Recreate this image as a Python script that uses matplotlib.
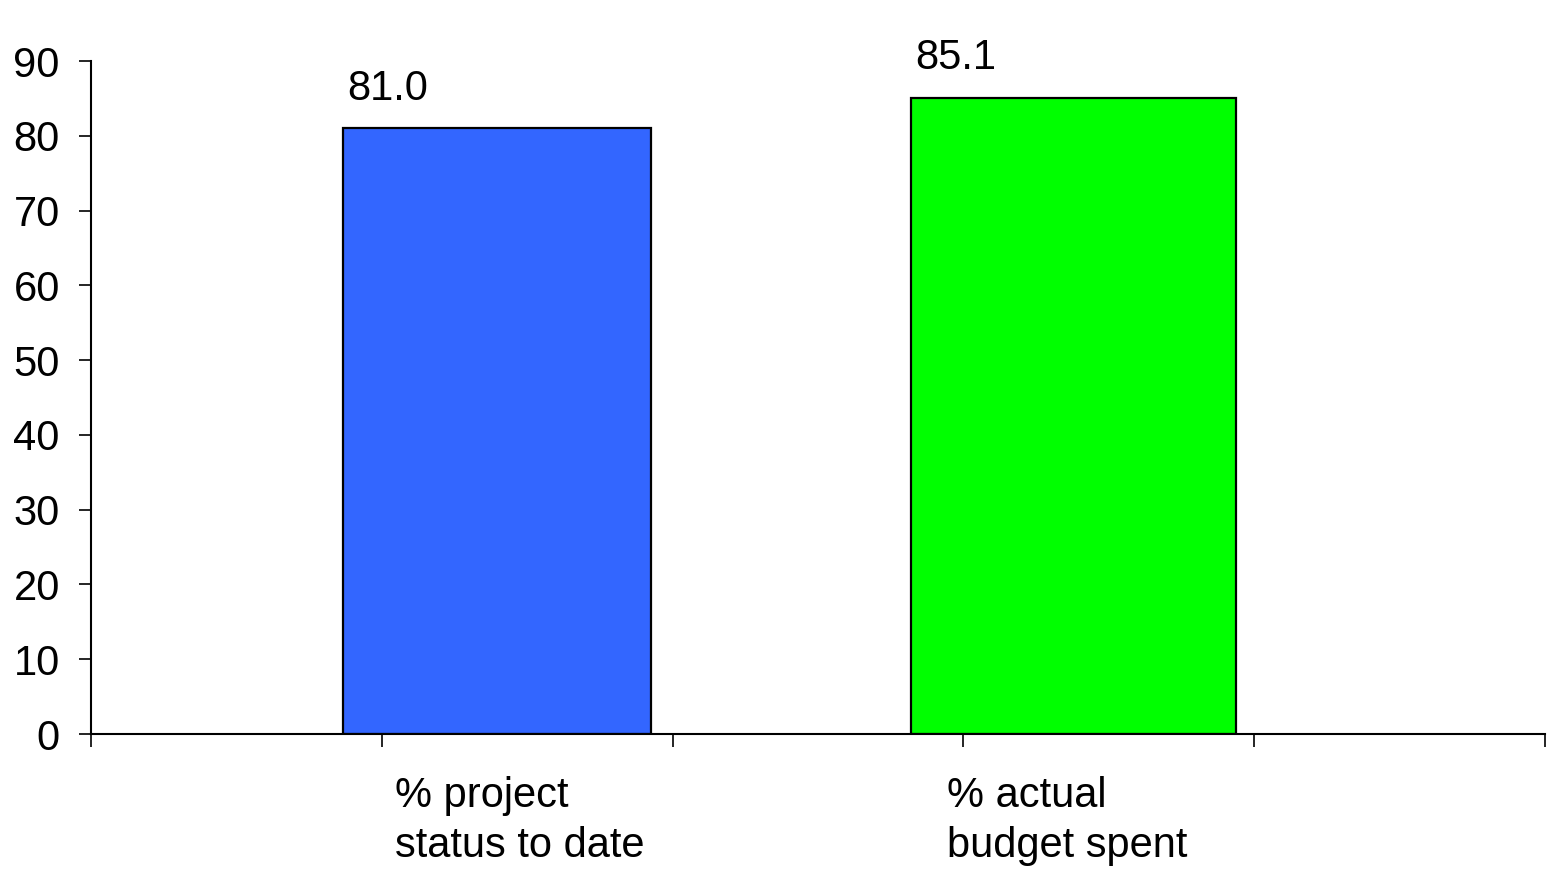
import matplotlib.pyplot as plt

plt.rcParams['font.family'] = ['Liberation Sans', 'DejaVu Sans']

# Data
categories = ['% project\nstatus to date', '% actual\nbudget spent']
values = [81.0, 85.1]
value_labels = ['81.0', '85.1']
bar_colors = ['#3366FF', '#00FF00']

# Bar layout along a 0..5 axis
bar_centers = [1.396, 3.38]
bar_widths = [1.06, 1.118]
label_x = [1.045, 2.944]

fig = plt.figure(figsize=(15.54, 8.69), dpi=100)
ax = fig.add_axes([0.0586, 0.1553, 0.9356, 0.7745])

bars = ax.bar(bar_centers, values, width=bar_widths, color=bar_colors,
              edgecolor='black', linewidth=1.6, zorder=1)

# Value labels over each bar, left aligned with the bar
for rect, lab in zip(bars, value_labels):
    ax.annotate(lab, (rect.get_x(), rect.get_height()),
                xytext=(3, 14), textcoords='offset points',
                ha='left', va='bottom', fontsize=30)

# Category labels below the axis
for x, cat in zip(label_x, categories):
    ax.text(x, -0.062, cat, transform=ax.get_xaxis_transform(),
            ha='left', va='top', fontsize=30, linespacing=1.32)

ax.set_xlim(0, 5)
ax.set_ylim(0, 90)
ax.set_xticks(range(6))
ax.set_xticklabels([])
ax.set_yticks(range(0, 91, 10))

for side in ['top', 'right']:
    ax.spines[side].set_visible(False)
for side in ['left', 'bottom']:
    ax.spines[side].set_linewidth(1.5)

ax.tick_params(axis='y', direction='out', length=9, width=1.2, pad=13.5, labelsize=30)
ax.tick_params(axis='x', direction='out', length=9, width=1.2)

plt.savefig('out.png', dpi=100)
plt.close()
